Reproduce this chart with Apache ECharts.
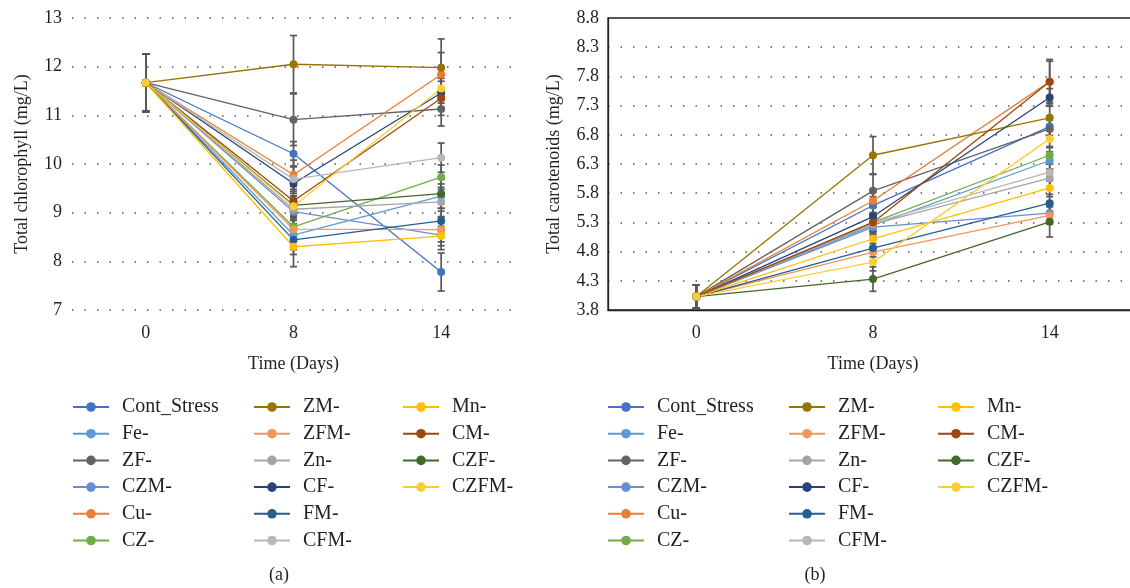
<!DOCTYPE html>
<html>
<head>
<meta charset="utf-8">
<script src="https://cdn.jsdelivr.net/npm/echarts@6/dist/echarts.min.js"></script>
<style>
  html, body { margin: 0; background: #fff; }
  #chart { width: 1130px; height: 588px; }
</style>
</head>
<body>
<div id="chart"></div>
<script>
const days = ['0', '8', '14']
const treatments = ['Cont_Stress', 'Fe-', 'ZF-', 'CZM-', 'Cu-', 'CZ-', 'ZM-', 'ZFM-', 'Zn-', 'CF-', 'FM-', 'CFM-', 'Mn-', 'CM-', 'CZF-', 'CZFM-']
const colors = ['#4472C4', '#5B9BD5', '#636363', '#698ED0', '#ED7D31', '#70AD47', '#997300', '#F1975A',
  '#A5A5A5', '#264478', '#255E91', '#B7B7B7', '#FFC000', '#9E480E', '#43682B', '#FFCD33']

// total chlorophyll (mg/L), one row per treatment: day 0, 8, 14
const chlMean = [
  [11.67, 10.21, 7.78], [11.67, 8.54, 9.34], [11.67, 10.91, 11.13], [11.67, 9.02, 8.54],
  [11.67, 9.78, 11.84], [11.67, 8.71, 9.73], [11.67, 12.05, 11.98], [11.67, 8.66, 8.65],
  [11.67, 9.07, 9.22], [11.67, 9.60, 11.46], [11.67, 8.44, 8.83], [11.67, 9.69, 10.13],
  [11.67, 8.30, 8.52], [11.67, 9.24, 11.35], [11.67, 9.15, 9.39], [11.67, 9.13, 11.55]
]
const chlErr = [
  [0.59, 0.25, 0.39], [0.59, 0.3, 0.25], [0.59, 0.53, 0.35], [0.59, 0.25, 0.3],
  [0.59, 0.3, 0.45], [0.59, 0.2, 0.25], [0.59, 0.59, 0.59], [0.59, 0.25, 0.25],
  [0.59, 0.2, 0.3], [0.59, 0.2, 0.3], [0.59, 0.3, 0.2], [0.59, 0.25, 0.3],
  [0.59, 0.41, 0.2], [0.59, 0.3, 0.35], [0.59, 0.2, 0.3], [0.59, 0.2, 0.3]
]
// total carotenoids (mg/L)
const carMean = [
  [4.03, 5.59, 6.94], [4.03, 5.25, 6.36], [4.03, 5.84, 6.90], [4.03, 5.22, 5.46],
  [4.03, 5.67, 7.71], [4.03, 5.30, 6.45], [4.03, 6.45, 7.09], [4.03, 4.79, 5.42],
  [4.03, 5.27, 6.06], [4.03, 5.40, 7.44], [4.03, 4.86, 5.63], [4.03, 5.29, 6.16],
  [4.03, 5.02, 5.89], [4.03, 5.30, 7.71], [4.03, 4.33, 5.31], [4.03, 4.62, 6.73]
]
const carErr = [
  [0.2, 0.15, 0.15], [0.2, 0.15, 0.15], [0.2, 0.28, 0.15], [0.2, 0.15, 0.15],
  [0.2, 0.2, 0.35], [0.2, 0.15, 0.15], [0.2, 0.32, 0.2], [0.2, 0.15, 0.15],
  [0.2, 0.15, 0.15], [0.2, 0.15, 0.15], [0.2, 0.15, 0.15], [0.2, 0.15, 0.15],
  [0.2, 0.15, 0.15], [0.2, 0.15, 0.38], [0.2, 0.21, 0.26], [0.2, 0.15, 0.15]
]

const font = 'Liberation Serif'
const textColor = '#231f20'
const dotted = { color: '#555', width: 1.5, type: [1.5, 11] }

function errorSeries(means, errs, idx) {
  const data = []
  means.forEach((row, s) => row.forEach((v, d) => data.push([d, v - errs[s][d], v + errs[s][d]])))
  return {
    type: 'custom',
    xAxisIndex: idx,
    yAxisIndex: idx,
    silent: true,
    z: 1,
    encode: { x: 0, y: [1, 2] },
    data: data,
    renderItem(params, api) {
      const hi = api.coord([api.value(0), api.value(2)])
      const lo = api.coord([api.value(0), api.value(1)])
      const w = 3.5
      const style = { stroke: '#595959', lineWidth: 1.7 }
      return {
        type: 'group',
        children: [
          { type: 'line', shape: { x1: hi[0], y1: hi[1], x2: lo[0], y2: lo[1] }, style },
          { type: 'line', shape: { x1: hi[0] - w, y1: hi[1], x2: hi[0] + w, y2: hi[1] }, style },
          { type: 'line', shape: { x1: lo[0] - w, y1: lo[1], x2: lo[0] + w, y2: lo[1] }, style }
        ]
      }
    }
  }
}

function lineSeries(means, idx) {
  return treatments.map((name, i) => ({
    name: name,
    type: 'line',
    xAxisIndex: idx,
    yAxisIndex: idx,
    z: 2,
    symbol: 'circle',
    symbolSize: 8,
    color: colors[i],
    lineStyle: { width: 1.3, color: colors[i] },
    itemStyle: { color: colors[i] },
    data: means[i],
    animation: false
  }))
}

const legendCols = [treatments.slice(0, 6), treatments.slice(6, 12), treatments.slice(12)]
const legendX = [72, 253, 402]
function makeLegends(offset) {
  return legendCols.map((col, i) => ({
    orient: 'vertical',
    left: legendX[i] + offset,
    top: 397,
    padding: 0,
    data: col,
    selectedMode: false,
    itemWidth: 36,
    itemHeight: 12,
    itemGap: 6.7,
    textStyle: { fontFamily: font, fontSize: 20, lineHeight: 20, color: textColor, padding: [0, 0, 0, 8] }
  }))
}

const chart = echarts.init(document.getElementById('chart'))
chart.setOption({
  animation: false,
  backgroundColor: '#fff',
  grid: [
    { left: 72, width: 443, top: 18, height: 292, outerBoundsMode: 'none' },
    { left: 608, width: 530, top: 18, height: 292, outerBoundsMode: 'none', show: true, borderColor: '#222', borderWidth: 1.3 }
  ],
  xAxis: [
    {
      type: 'category', gridIndex: 0, data: days, boundaryGap: true,
      axisLine: { show: false }, axisTick: { show: false },
      axisLabel: { fontFamily: font, fontSize: 18, color: textColor, margin: 14 },
      name: 'Time (Days)', nameLocation: 'middle', nameGap: 45,
      nameTextStyle: { fontFamily: font, fontSize: 18, color: textColor }
    },
    {
      type: 'category', gridIndex: 1, data: days, boundaryGap: true,
      axisLine: { show: true, lineStyle: { color: '#222', width: 1.3 } }, axisTick: { show: false },
      axisLabel: { fontFamily: font, fontSize: 18, color: textColor, margin: 14 },
      name: 'Time (Days)', nameLocation: 'middle', nameGap: 45,
      nameTextStyle: { fontFamily: font, fontSize: 18, color: textColor }
    }
  ],
  yAxis: [
    {
      type: 'value', gridIndex: 0, min: 7, max: 13, interval: 1,
      axisLine: { show: false }, axisTick: { show: false },
      axisLabel: { fontFamily: font, fontSize: 18, color: textColor, margin: 10 },
      splitLine: { show: true, lineStyle: dotted },
      name: 'Total chlorophyll (mg/L)', nameLocation: 'middle', nameGap: 41,
      nameTextStyle: { fontFamily: font, fontSize: 18, color: textColor }
    },
    {
      type: 'value', gridIndex: 1, min: 3.8, max: 8.8, interval: 0.5,
      axisLine: { show: true, lineStyle: { color: '#222', width: 1.3 } }, axisTick: { show: false },
      axisLabel: { fontFamily: font, fontSize: 18, color: textColor, margin: 9, formatter: v => v.toFixed(1) },
      splitLine: { show: true, lineStyle: dotted },
      name: 'Total carotenoids (mg/L)', nameLocation: 'middle', nameGap: 45,
      nameTextStyle: { fontFamily: font, fontSize: 18, color: textColor }
    }
  ],
  legend: makeLegends(0).concat(makeLegends(535)),
  graphic: [
    { type: 'text', x: 279, y: 575, style: { text: '(a)', font: '18px "Liberation Serif"', fill: textColor, textAlign: 'center', textVerticalAlign: 'middle' } },
    { type: 'text', x: 815, y: 575, style: { text: '(b)', font: '18px "Liberation Serif"', fill: textColor, textAlign: 'center', textVerticalAlign: 'middle' } }
  ],
  series: [errorSeries(chlMean, chlErr, 0)]
    .concat(lineSeries(chlMean, 0))
    .concat([errorSeries(carMean, carErr, 1)])
    .concat(lineSeries(carMean, 1))
})
</script>
</body>
</html>
